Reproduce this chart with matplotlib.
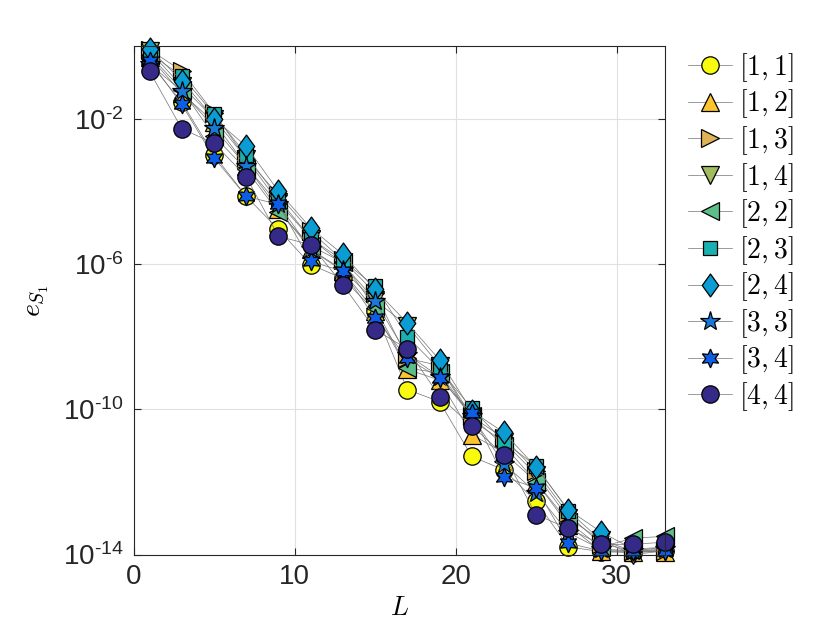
import numpy as np
import matplotlib
matplotlib.use("Agg")
import matplotlib.pyplot as plt
from matplotlib.path import Path

plt.rcParams['font.family'] = ['Liberation Sans', 'DejaVu Sans']
plt.rcParams['mathtext.fontset'] = 'cm'

L = [1, 3, 5, 7, 9, 11, 13, 15, 17, 19, 21, 23, 25, 27, 29, 31, 33]

labels = ['[1,1]', '[1,2]', '[1,3]', '[1,4]', '[2,2]',
          '[2,3]', '[2,4]', '[3,3]', '[3,4]', '[4,4]']

ytick_vals = [1e-14, 1e-10, 1e-6, 1e-2]
ytick_exps = ['14', '10', '6', '2']

# log10 of the error
e11 = [-0.46, -1.55, -3.00, -4.14, -5.05, -6.02, -6.40, -7.30, -9.46, -9.79, -11.30, -11.67, -12.54, -13.79, -13.92, -13.95, -13.90]
e12 = [-0.30, -1.30, -2.10, -3.30, -4.50, -5.60, -6.20, -7.30, -8.90, -9.20, -10.70, -11.20, -12.00, -13.20, -13.90, -13.92, -13.92]
e13 = [-0.10, -0.69, -1.85, -3.10, -4.10, -5.10, -5.90, -6.80, -8.60, -8.80, -10.20, -10.80, -11.70, -12.90, -13.70, -13.90, -13.90]
e14 = [-0.15, -1.10, -2.00, -3.10, -4.30, -5.30, -6.00, -7.00, -7.70, -8.80, -10.30, -10.90, -11.80, -13.00, -13.60, -14.00, -13.90]
e22 = [-0.25, -1.20, -2.48, -3.40, -4.58, -5.50, -5.96, -7.20, -8.87, -9.00, -10.20, -11.00, -12.00, -13.10, -13.80, -13.55, -13.50]
e23 = [-0.20, -0.83, -1.88, -3.00, -4.20, -5.30, -5.90, -6.62, -8.00, -8.90, -9.97, -10.90, -11.56, -12.80, -13.60, -13.90, -13.80]
e24 = [-0.09, -0.95, -2.00, -2.76, -4.00, -5.01, -5.74, -6.70, -7.63, -8.64, -10.05, -10.64, -11.60, -12.77, -13.37, -13.85, -13.80]
e33 = [-0.50, -1.24, -2.25, -3.31, -4.36, -5.60, -6.16, -7.03, -8.50, -9.10, -10.20, -11.50, -12.30, -13.40, -13.85, -13.90, -13.85]
e34 = [-0.40, -1.61, -3.08, -4.14, -4.36, -5.93, -6.20, -7.49, -8.60, -9.14, -10.11, -11.86, -12.17, -13.69, -13.90, -13.90, -13.90]
e44 = [-0.70, -2.28, -2.68, -3.60, -5.24, -5.47, -6.57, -7.81, -8.34, -9.65, -10.46, -11.26, -12.91, -13.28, -13.72, -13.72, -13.66]

series = [e11, e12, e13, e14, e22, e23, e24, e33, e34, e44]

colors = ['#F9FB0E', '#FCC42E', '#E0B257', '#A2BC5F', '#5CBF8A',
          '#1AB0B0', '#0A9CD2', '#1779DA', '#0D5EE6', '#352A87']

diamond = Path([(0, 1), (0.72, 0), (0, -1), (-0.72, 0), (0, 1)],
               [Path.MOVETO, Path.LINETO, Path.LINETO, Path.LINETO, Path.CLOSEPOLY])
markers = ['o', '^', '>', 'v', '<', 's', diamond, '*', (6, 1, 0), 'o']
msizes = [12.5, 12.5, 12.5, 12.5, 12.5, 10.5, 16.5, 14.5, 13.5, 12.5]

fig = plt.figure(figsize=(8.30, 6.23), dpi=100)
ax = fig.add_axes([133.5 / 830, (623 - 554.5) / 623, (665 - 133.5) / 830, (554.5 - 46) / 623])

for vals, lab, c, m, ms in zip(series, labels, colors, markers, msizes):
    ax.semilogy(L, 10.0 ** np.array(vals), marker=m, markersize=ms,
                markerfacecolor=c, markeredgecolor='black', markeredgewidth=0.9,
                color='0.45', linewidth=0.5, label='$' + lab + '$', clip_on=False)

ax.set_xlim(0, 33)
ax.set_ylim(1e-14, 1e0)
ax.set_xticks([0, 10, 20, 30])
ax.set_yticks(ytick_vals)
ax.set_yticklabels([r'$\mathdefault{10^{' + '\u2010' + e + '}}$' for e in ytick_exps])
ax.minorticks_off()
ax.grid(True, color='#E0E0E0', linewidth=0.8)
ax.set_axisbelow(True)
ax.tick_params(direction='in', top=True, right=True, length=5, width=0.8,
               labelsize=20, colors='#262626', pad=7)
for s in ax.spines.values():
    s.set_color('#262626')
    s.set_linewidth(0.8)

ax.set_xlabel('$L$', fontsize=19)
ax.xaxis.set_label_coords(0.501, -0.082)
ax.set_ylabel('$e_{S_1}$', fontsize=20)
ax.yaxis.set_label_coords(-0.155, 0.50)

leg = fig.legend(loc='upper left', bbox_to_anchor=(688 / 830, 1 - 51 / 623),
                 frameon=False, fontsize=20, handlelength=1.6, handletextpad=0.25,
                 labelspacing=0.135, borderpad=0, borderaxespad=0)

fig.savefig('out.png', dpi=100)
